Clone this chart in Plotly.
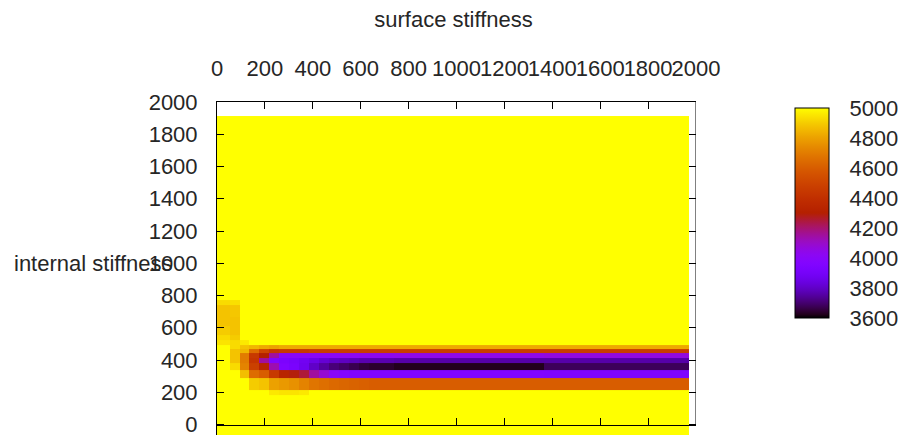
import numpy as np
import plotly.graph_objects as go

# ---------------- data ----------------
# cell boundaries of the surface grid, in data units
x_edges = [0, 54, 96, 134, 175, 217, 259, 301, 342, 384, 426, 468, 509, 551,
           593, 635, 738, 1365, 1971]
y_edges = [-100, 183, 214, 287, 338, 380, 414, 442, 468, 493, 524, 555, 611,
           667, 741, 772, 1913]

# stiffness values, one row per y cell (bottom -> top), one column per x cell
row_00 = [5000] * 18
row_01 = [5000, 5000, 5000, 5000, 5000, 4960, 4950, 4950, 4960, 5000, 5000, 5000, 5000, 5000, 5000, 5000, 5000, 5000]
row_02 = [5000, 5000, 5000, 4900, 4880, 4800, 4780, 4760, 4720, 4680, 4660, 4640, 4630, 4620, 4610, 4600, 4600, 4600]
row_03 = [5000, 5000, 4870, 4650, 4600, 4450, 4330, 4290, 4250, 4150, 4080, 4000, 3970, 3950, 3950, 3950, 3950, 3940]
row_04 = [5000, 4930, 4720, 4480, 4330, 4130, 3950, 3920, 3870, 3800, 3750, 3710, 3690, 3670, 3650, 3640, 3625, 3680]
row_05 = [5000, 4880, 4700, 4430, 4150, 3960, 3930, 3910, 3880, 3850, 3820, 3800, 3790, 3780, 3770, 3770, 3760, 3760]
row_06 = [5000, 4880, 4700, 4450, 4300, 4150, 4000, 4000, 4000, 4000, 4000, 4010, 4020, 4020, 4030, 4030, 4040, 4060]
row_07 = [5000, 4880, 4850, 4650, 4500, 4430, 4450, 4450, 4450, 4470, 4470, 4470, 4470, 4470, 4470, 4470, 4470, 4470]
row_08 = [5000, 4930, 4880, 4850, 4820, 4800, 4820, 4820, 4820, 4820, 4820, 4820, 4820, 4820, 4820, 4820, 4820, 4820]
row_09 = [4950, 4930, 4960, 5000, 5000, 5000, 5000, 5000, 5000, 5000, 5000, 5000, 5000, 5000, 5000, 5000, 5000, 5000]
row_10 = [4930, 4900, 5000, 5000, 5000, 5000, 5000, 5000, 5000, 5000, 5000, 5000, 5000, 5000, 5000, 5000, 5000, 5000]
row_11 = [4900, 4880, 5000, 5000, 5000, 5000, 5000, 5000, 5000, 5000, 5000, 5000, 5000, 5000, 5000, 5000, 5000, 5000]
row_12 = [4880, 4880, 5000, 5000, 5000, 5000, 5000, 5000, 5000, 5000, 5000, 5000, 5000, 5000, 5000, 5000, 5000, 5000]
row_13 = [4880, 4890, 5000, 5000, 5000, 5000, 5000, 5000, 5000, 5000, 5000, 5000, 5000, 5000, 5000, 5000, 5000, 5000]
row_14 = [4930, 4940, 5000, 5000, 5000, 5000, 5000, 5000, 5000, 5000, 5000, 5000, 5000, 5000, 5000, 5000, 5000, 5000]
row_15 = [5000] * 18

stiffness = [row_00, row_01, row_02, row_03, row_04, row_05, row_06, row_07,
             row_08, row_09, row_10, row_11, row_12, row_13, row_14, row_15]

axis_ticks = [0, 200, 400, 600, 800, 1000, 1200, 1400, 1600, 1800, 2000]
cbar_ticks = [3600, 3800, 4000, 4200, 4400, 4600, 4800, 5000]
z_min, z_max = 3600, 5000
y_min = -65

# ---------------- style ----------------
# gnuplot default pm3d palette (rgbformulae 7,5,15)
colorscale = []
for t in np.linspace(0, 1, 61):
    r = np.sqrt(t)
    g = t ** 3
    b = min(max(np.sin(2 * np.pi * t), 0.0), 1.0)
    colorscale.append([float(t), "rgb(%d,%d,%d)" % (round(255 * r), round(255 * g), round(255 * b))])

FONT = "Liberation Sans, Arial, sans-serif"
FS = 22
TXT = "#262626"

W, H = 901, 435
PL, PR, PT, PB = 217, 696, 102, 435   # plot box in px
PW, PH = PR - PL, PB - PT

# colour bar box (px)
CB_L, CB_R = 795, 829
CB_T, CB_B = 108, 318
cb_x0 = (CB_L - PL) / PW
cb_x1 = (CB_R - PL) / PW
cb_y0 = (PB - CB_B) / PH
cb_y1 = (PB - CB_T) / PH

fig = go.Figure()
fig.add_trace(go.Heatmap(
    x=x_edges, y=y_edges, z=stiffness,
    zmin=z_min, zmax=z_max, colorscale=colorscale, zsmooth=False,
    colorbar=dict(
        x=cb_x0, xanchor="left", xpad=0,
        y=(cb_y0 + cb_y1) / 2, yanchor="middle", ypad=0,
        len=CB_B - CB_T, lenmode="pixels",
        thickness=CB_R - CB_L, thicknessmode="pixels",
        outlinecolor="black", outlinewidth=1,
        tickvals=cbar_ticks, ticks="outside", ticklen=16,
        tickcolor="rgba(0,0,0,0)",
        tickfont=dict(family=FONT, size=FS, color=TXT),
    ),
    hoverinfo="skip",
))
# empty trace so that the mirrored bottom/right tick axes are drawn
fig.add_trace(go.Scatter(x=[None], y=[None], xaxis="x2", yaxis="y2",
                         mode="markers", showlegend=False, hoverinfo="skip"))

axis_common = dict(
    tickvals=axis_ticks, ticks="inside", ticklen=7, tickcolor="black",
    showgrid=False, zeroline=False, tickangle=0,
    tickfont=dict(family=FONT, size=FS, color=TXT),
)

# inside tick marks on both edges of the colour bar
shapes = [dict(type="line", xref="x", yref="y", x0=2000, x1=2000, y0=0, y1=2000,
               line=dict(color="black", width=1))]
tk = 5 / PW
for v in cbar_ticks[1:-1]:
    yy = cb_y0 + (v - z_min) / (z_max - z_min) * (cb_y1 - cb_y0)
    for xa, xb in ((cb_x0, cb_x0 + tk), (cb_x1 - tk, cb_x1)):
        shapes.append(dict(type="line", xref="paper", yref="paper",
                           x0=xa, x1=xb, y0=yy, y1=yy,
                           line=dict(color="black", width=1)))

fig.update_layout(
    width=W, height=H,
    margin=dict(l=PL, r=W - PR, t=PT, b=H - PB, pad=0, autoexpand=False),
    paper_bgcolor="white", plot_bgcolor="white",
    showlegend=False,
    title=dict(text="surface stiffness", x=453.5 / W, xanchor="center",
               y=1 - 19 / H, yanchor="middle", yref="container",
               font=dict(family=FONT, size=FS, color=TXT)),
    xaxis=dict(range=[0, 2000], side="top", showline=True, linecolor="black",
               linewidth=1, ticklabelstandoff=16, automargin=False,
               ticklabeloverflow="allow", **axis_common),
    yaxis=dict(range=[y_min, 2000], showline=True, linecolor="black",
               linewidth=1, ticklabelstandoff=14, automargin=False,
               ticklabeloverflow="allow", **axis_common),
    xaxis2=dict(range=[0, 2000], overlaying="x", anchor="free",
                position=(0 - y_min) / (2000 - y_min), side="bottom",
                showline=True, linecolor="black", linewidth=1,
                showticklabels=False, **axis_common),
    yaxis2=dict(range=[y_min, 2000], overlaying="y", anchor="x", side="right",
                showline=False, showticklabels=False, **axis_common),
    shapes=shapes,
    annotations=[dict(text="internal stiffness", xref="paper", yref="y",
                      x=(12 - PL) / PW, y=1000, xanchor="left", yanchor="middle",
                      showarrow=False,
                      font=dict(family=FONT, size=FS, color=TXT))],
)

# remove the browser's default 8px page margin so the figure fills the window
fig.write_html("out.html",
               config={"displayModeBar": False},
               post_script="document.body.style.margin='0px';"
                           "document.body.style.overflow='hidden';")
